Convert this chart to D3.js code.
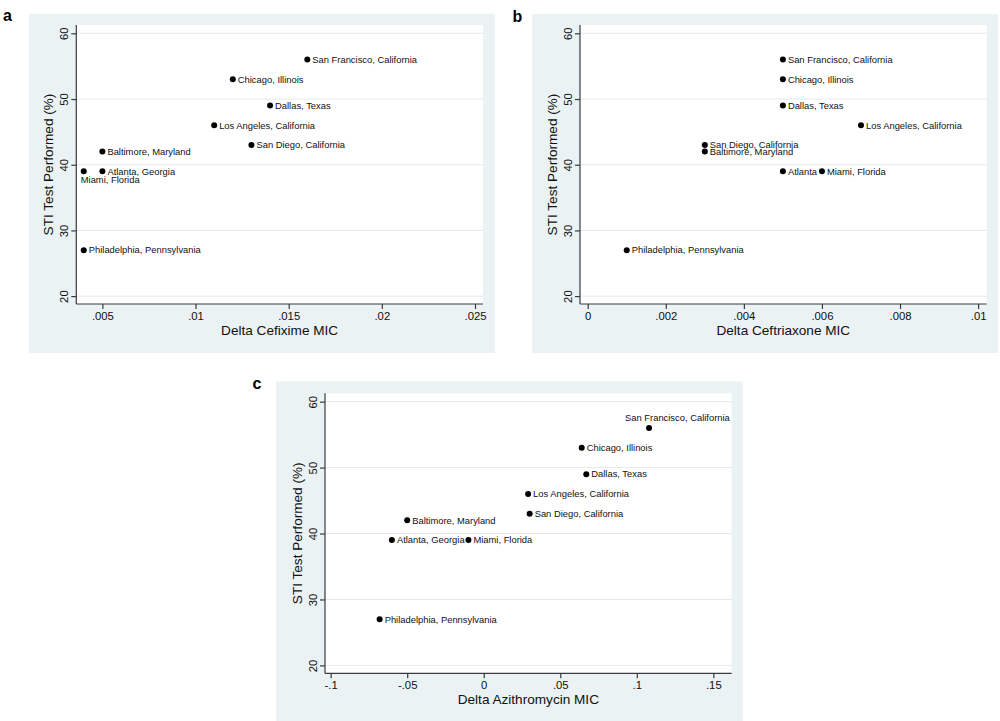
<!DOCTYPE html>
<html>
<head>
<style>
body { margin: 0; background: #fff; }
text { font-family: "Liberation Sans", Arial, sans-serif; fill: #111; }
</style>
<script src="https://d3js.org/d3.v7.min.js"></script>
</head>
<body>
<svg id="chart" width="1000" height="721"></svg>
<script>
// data
var cities = ["San Francisco, California", "Chicago, Illinois", "Dallas, Texas",
  "Los Angeles, California", "San Diego, California", "Baltimore, Maryland",
  "Atlanta, Georgia", "Miami, Florida", "Philadelphia, Pennsylvania"];
var stiTested = [56, 53, 49, 46, 43, 42, 39, 39, 27];
var deltaCefixime = [0.016, 0.012, 0.014, 0.011, 0.013, 0.005, 0.005, 0.004, 0.004];
var deltaCeftriaxone = [0.005, 0.005, 0.005, 0.007, 0.003, 0.003, 0.005, 0.006, 0.001];
var deltaAzithromycin = [0.108, 0.064, 0.067, 0.029, 0.030, -0.050, -0.060, -0.010, -0.068];

var yTicks = [20, 30, 40, 50, 60];
var cefiximeTicks = [0.005, 0.01, 0.015, 0.02, 0.025];
var ceftriaxoneTicks = [0, 0.002, 0.004, 0.006, 0.008, 0.01];
var azithromycinTicks = [-0.1, -0.05, 0, 0.05, 0.1, 0.15];

var svg = d3.select("#chart");

// stata style numbers: .005, -.1
function stataFmt(d) {
  var s = String(+d.toFixed(4));
  return s.replace(/^(-?)0\./, "$1.");
}

var panels = [
  { letter: "a", lx: 3, ly: 21, bg: [29, 14, 495, 353], plot: [76.3, 25, 483, 304],
    xdom: [0.0036, 0.02543], xs: deltaCefixime, ticks: cefiximeTicks, title: "Delta Cefixime MIC",
    labels: {7: {text: "Miami, Florida", dx: -3, dy: 11.8}} },
  { letter: "b", lx: 512.5, ly: 21.5, bg: [532, 14, 998, 353], plot: [580, 25, 986.7, 304],
    xdom: [-0.000197, 0.01022], xs: deltaCeftriaxone, ticks: ceftriaxoneTicks, title: "Delta Ceftriaxone MIC",
    labels: {6: {text: "Atlanta"}} },
  { letter: "c", lx: 252.5, ly: 389, bg: [276, 381.5, 742.7, 721], plot: [325, 393.3, 731.7, 673.3],
    xdom: [-0.1037, 0.162], xs: deltaAzithromycin, ticks: azithromycinTicks, title: "Delta Azithromycin MIC",
    labels: {0: {dx: -24, dy: -6.8}} }
];

panels.forEach(function(p) {
  var g = svg.append("g");
  var L = p.plot[0], T = p.plot[1], R = p.plot[2], B = p.plot[3];

  g.append("rect")
    .attr("x", p.bg[0]).attr("y", p.bg[1])
    .attr("width", p.bg[2] - p.bg[0]).attr("height", p.bg[3] - p.bg[1])
    .attr("fill", "#eaf2f3");
  g.append("rect")
    .attr("x", L).attr("y", T).attr("width", R - L).attr("height", B - T)
    .attr("fill", "#fff");

  g.append("text").text(p.letter)
    .attr("x", p.lx).attr("y", p.ly)
    .style("font-size", "16px").style("font-weight", "bold").style("fill", "#000");

  var x = d3.scaleLinear().domain(p.xdom).range([L, R]);
  var y = d3.scaleLinear().domain([18.8, 61.27]).range([B, T]);

  // gridlines
  g.selectAll(".grid").data(yTicks).enter().append("line")
    .attr("x1", L).attr("x2", R)
    .attr("y1", function(d) { return y(d); }).attr("y2", function(d) { return y(d); })
    .attr("stroke", "#e2eaec").attr("stroke-width", 1);

  // x axis
  var xAxis = d3.axisBottom(x).tickValues(p.ticks).tickFormat(stataFmt).tickSize(5).tickPadding(3);
  var xg = g.append("g").attr("transform", "translate(0," + B + ")").call(xAxis);
  xg.select(".domain").attr("d", "M" + L + ",0H" + R);
  xg.selectAll("line, path").attr("stroke", "#3a3a3a").attr("stroke-width", 1.2);
  xg.selectAll("text").style("font-size", "11.3px").attr("font-family", null).attr("fill", "#111");

  // y axis
  var yAxis = d3.axisLeft(y).tickValues(yTicks).tickSize(5).tickFormat(d3.format("d"));
  var yg = g.append("g").attr("transform", "translate(" + L + ",0)").call(yAxis);
  yg.select(".domain").attr("d", "M0," + T + "V" + B);
  yg.selectAll("line, path").attr("stroke", "#3a3a3a").attr("stroke-width", 1.2);
  yg.selectAll("text")
    .attr("x", null).attr("dy", null)
    .attr("text-anchor", "middle")
    .attr("transform", "translate(-8,0) rotate(-90)")
    .style("font-size", "11.3px").attr("font-family", null).attr("fill", "#111");

  // axis titles
  g.append("text").text(p.title)
    .attr("x", (L + R) / 2).attr("y", B + 31)
    .attr("text-anchor", "middle").style("font-size", "13.6px");
  g.append("text").text("STI Test Performed (%)")
    .attr("transform", "translate(" + (L - 23) + "," + ((T + B) / 2) + ") rotate(-90)")
    .attr("text-anchor", "middle").style("font-size", "13.6px");

  // points + labels
  var rows = cities.map(function(c, i) { return { city: c, mic: p.xs[i], pct: stiTested[i], i: i }; });
  g.selectAll(".pt").data(rows).enter().append("circle")
    .attr("cx", function(d) { return x(d.mic); })
    .attr("cy", function(d) { return y(d.pct); })
    .attr("r", 3).attr("fill", "#000");

  g.selectAll(".lab").data(rows).enter().append("text")
    .attr("x", function(d) {
      var o = p.labels[d.i];
      return x(d.mic) + (o && o.dx !== undefined ? o.dx : 5);
    })
    .attr("y", function(d) {
      var o = p.labels[d.i];
      return y(d.pct) + (o && o.dy !== undefined ? o.dy : 3.3);
    })
    .text(function(d) {
      var o = p.labels[d.i];
      return o && o.text ? o.text : d.city;
    })
    .style("font-size", "9.4px");
});
</script>
</body>
</html>
